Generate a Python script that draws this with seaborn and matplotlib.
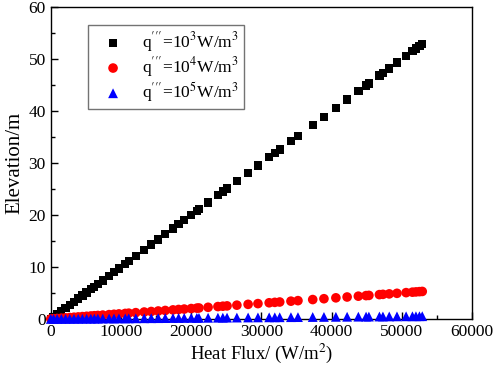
import matplotlib
matplotlib.use("Agg")
import matplotlib.pyplot as plt
import seaborn as sns
import pandas as pd
from matplotlib.ticker import MultipleLocator

# heat flux values (W/m2), shared by the three series
heat_flux = [0, 400, 900, 1500, 2100, 2700, 3300, 3900, 4500, 5100, 5700, 6200,
             6700, 7400, 8300, 9000, 9700, 10600, 11100, 12100, 13300, 14300, 15300,
             16300, 17400, 18200, 19000, 20000, 20800, 21100, 22400, 23800, 24500,
             25100, 26500, 28100, 29500, 31100, 31900, 32600, 34200, 35200, 37300,
             38900, 40600, 42200, 43800, 44900, 45300, 46800, 47300, 48200, 49300,
             50600, 51500, 52000, 52500, 52900]

# elevation (m) for q''' = 1e3 W/m3
elev_1e3 = [0.0, 0.4, 0.9, 1.5, 2.1, 2.7, 3.3, 3.9, 4.5, 5.1, 5.7, 6.2,
            6.7, 7.4, 8.3, 9.0, 9.7, 10.6, 11.1, 12.1, 13.3, 14.3, 15.3,
            16.3, 17.4, 18.2, 19.0, 20.0, 20.8, 21.1, 22.4, 23.8, 24.5,
            25.1, 26.5, 28.1, 29.5, 31.1, 31.9, 32.6, 34.2, 35.2, 37.3,
            38.9, 40.6, 42.2, 43.8, 44.9, 45.3, 46.8, 47.3, 48.2, 49.3,
            50.6, 51.5, 52.0, 52.5, 52.9]

# elevation (m) for q''' = 1e4 W/m3
elev_1e4 = [0.00, 0.04, 0.09, 0.15, 0.21, 0.27, 0.33, 0.39, 0.45, 0.51, 0.57, 0.62,
            0.67, 0.74, 0.83, 0.90, 0.97, 1.06, 1.11, 1.21, 1.33, 1.43, 1.53,
            1.63, 1.74, 1.82, 1.90, 2.00, 2.08, 2.11, 2.24, 2.38, 2.45,
            2.51, 2.65, 2.81, 2.95, 3.11, 3.19, 3.26, 3.42, 3.52, 3.73,
            3.89, 4.06, 4.22, 4.38, 4.49, 4.53, 4.68, 4.73, 4.82, 4.93,
            5.06, 5.15, 5.20, 5.25, 5.29]

# elevation (m) for q''' = 1e5 W/m3
elev_1e5 = [0.000, 0.004, 0.009, 0.015, 0.021, 0.027, 0.033, 0.039, 0.045, 0.051, 0.057, 0.062,
            0.067, 0.074, 0.083, 0.090, 0.097, 0.106, 0.111, 0.121, 0.133, 0.143, 0.153,
            0.163, 0.174, 0.182, 0.190, 0.200, 0.208, 0.211, 0.224, 0.238, 0.245,
            0.251, 0.265, 0.281, 0.295, 0.311, 0.319, 0.326, 0.342, 0.352, 0.373,
            0.389, 0.406, 0.422, 0.438, 0.449, 0.453, 0.468, 0.473, 0.482, 0.493,
            0.506, 0.515, 0.520, 0.525, 0.529]

labels = [r"q$^{\prime\prime\prime}$=10$^{3}$W/m$^{3}$",
          r"q$^{\prime\prime\prime}$=10$^{4}$W/m$^{3}$",
          r"q$^{\prime\prime\prime}$=10$^{5}$W/m$^{3}$"]

sns.set_style("ticks")
plt.rcParams["font.family"] = ["Liberation Serif", "DejaVu Serif"]
plt.rcParams["mathtext.fontset"] = "stix"
plt.rcParams["text.color"] = "black"
plt.rcParams["axes.labelcolor"] = "black"

fig = plt.figure(figsize=(4.98, 3.70), dpi=100)
ax = fig.add_axes([0.102, 0.138, 0.846, 0.843])

series = [(elev_1e3, "black", "s", 36),
          (elev_1e4, "red", "o", 48),
          (elev_1e5, "blue", "^", 50)]
for (ys, col, mk, sz), lab in zip(series, labels):
    df = pd.DataFrame({"flux": heat_flux, "elev": ys})
    sns.scatterplot(data=df, x="flux", y="elev", ax=ax, color=col, marker=mk,
                    s=sz, edgecolor="none", label=lab, clip_on=False, zorder=3)

ax.set_xlim(0, 60000)
ax.set_ylim(0, 60)
ax.xaxis.set_major_locator(MultipleLocator(10000))
ax.xaxis.set_minor_locator(MultipleLocator(5000))
ax.yaxis.set_major_locator(MultipleLocator(10))
ax.yaxis.set_minor_locator(MultipleLocator(5))
ax.tick_params(which="both", direction="in", top=False, right=False, labelsize=12.5,
               width=1, colors="black", labelcolor="black")
ax.tick_params(which="major", length=5)
ax.tick_params(which="minor", length=3)
for sp in ax.spines.values():
    sp.set_visible(True)
    sp.set_color("black")
    sp.set_linewidth(1)

ax.set_xlabel(r"Heat Flux/ (W/m$^{2}$)", fontsize=13.5, labelpad=1)
ax.set_ylabel("Elevation/m", fontsize=15, labelpad=3)

leg = ax.legend(loc="upper left", bbox_to_anchor=(0.088, 0.942), borderaxespad=0,
                fontsize=12.5, frameon=True, fancybox=False, edgecolor="0.45",
                framealpha=1, handlelength=2.3, handletextpad=0.5, borderpad=0.3,
                labelspacing=0.05)
leg.get_frame().set_linewidth(1)

fig.savefig("out.png", dpi=100)
